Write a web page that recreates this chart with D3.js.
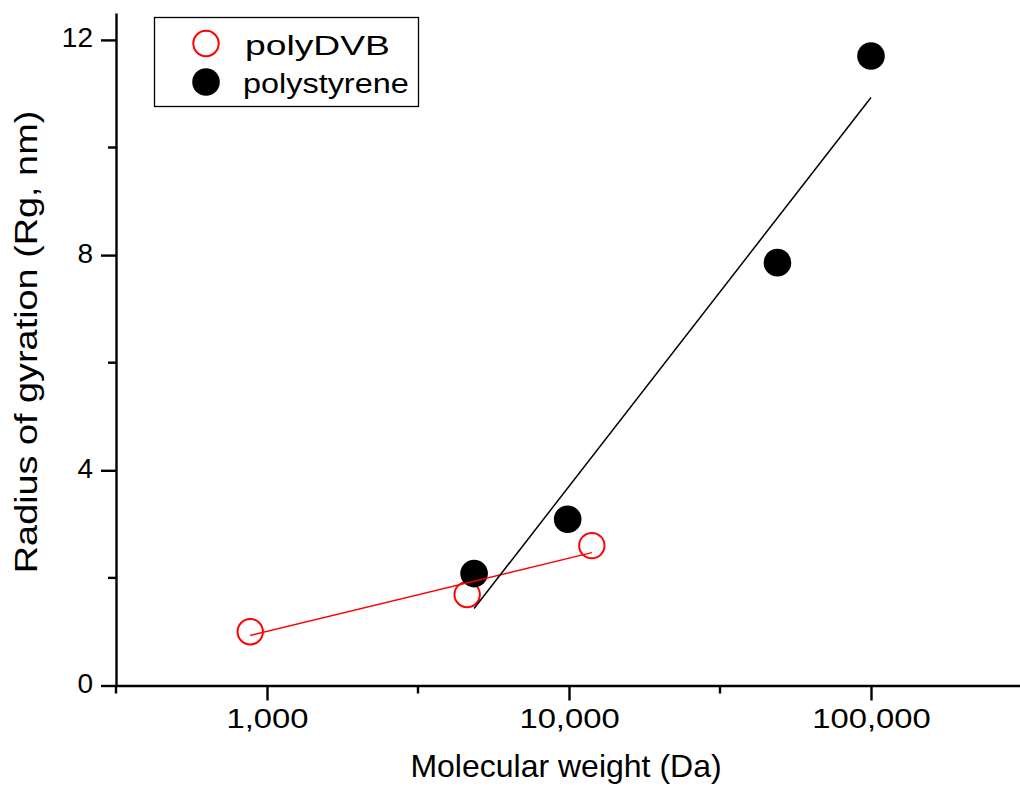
<!DOCTYPE html>
<html>
<head>
<meta charset="utf-8">
<script src="https://cdn.jsdelivr.net/npm/d3@7"></script>
<style>
  body { margin: 0; background: #fff; }
  text { font-family: "Liberation Sans", Arial, sans-serif; fill: #000; }
</style>
</head>
<body>
<div id="chart"></div>
<script>
// Data
const dvbMw = [880, 4600, 11900];
const dvbRg = [1.0, 1.69, 2.6];
const psMw = [4850, 9900, 49000, 100000];
const psRg = [2.08, 3.09, 7.86, 11.70];

// fitted lines (end points)
const dvbFitMw = [880, 11900];
const dvbFitRg = [0.93, 2.47];
const psFitMw = [4850, 100000];
const psFitRg = [1.43, 10.93];

const xTicks = [1000, 10000, 100000];
const xMinor = [Math.pow(10, 2.5), Math.pow(10, 3.5), Math.pow(10, 4.5)];
const yTicks = [0, 4, 8, 12];
const yMinor = [2, 6, 10];

const width = 1020;
const height = 796;

const svg = d3.select('#chart')
  .append('svg')
  .attr('width', width)
  .attr('height', height);

const x = d3.scaleLog()
  .domain([Math.pow(10, 2.5), Math.pow(10, 5.5)])
  .range([116, 1022]);
const y = d3.scaleLinear()
  .domain([0, 12.5])
  .range([685.5, 13]);

// stretch text horizontally to match the reference glyph widths
function stretch(sel, k) {
  sel.each(function() {
    const L = this.getComputedTextLength();
    d3.select(this).attr('textLength', L * k).attr('lengthAdjust', 'spacingAndGlyphs');
  });
}

const toPts = (mw, rg) => mw.map((m, i) => ({ mw: m, rg: rg[i] }));

// X axis
const xAxis = svg.append('g')
  .attr('transform', `translate(0,${y(0)})`)
  .call(d3.axisBottom(x).tickValues(xTicks).tickSize(15).tickSizeOuter(0).tickFormat(d3.format(',')));
xAxis.select('.domain').attr('stroke-width', 2.4);
xAxis.selectAll('.tick line').attr('stroke-width', 2.4);
xAxis.selectAll('.tick text')
  .attr('y', 42)
  .attr('dy', 0)
  .style('font-size', '28px')
  .call(stretch, 1.17);

svg.append('g')
  .selectAll('line')
  .data(xMinor)
  .enter().append('line')
  .attr('x1', d => x(d)).attr('x2', d => x(d))
  .attr('y1', y(0)).attr('y2', y(0) + 8)
  .attr('stroke', '#000').attr('stroke-width', 2.4);

// Y axis
const yAxis = svg.append('g')
  .attr('transform', `translate(${x.range()[0]},0)`)
  .call(d3.axisLeft(y).tickValues(yTicks).tickSize(15).tickSizeOuter(0));
yAxis.select('.domain').attr('stroke-width', 2.4);
yAxis.selectAll('.tick line').attr('stroke-width', 2.4);
yAxis.selectAll('.tick text')
  .attr('x', -23)
  .attr('dy', '0.25em')
  .style('font-size', '28px');

svg.append('g')
  .selectAll('line')
  .data(yMinor)
  .enter().append('line')
  .attr('x1', x.range()[0] - 8).attr('x2', x.range()[0])
  .attr('y1', d => y(d)).attr('y2', d => y(d))
  .attr('stroke', '#000').attr('stroke-width', 2.4);

// Axis titles
svg.append('text')
  .attr('x', 566)
  .attr('y', 777)
  .style('text-anchor', 'middle')
  .style('font-size', '32px')
  .text('Molecular weight (Da)');

svg.append('text')
  .attr('transform', 'translate(37,342) rotate(-90)')
  .style('text-anchor', 'middle')
  .style('font-size', '31px')
  .text('Radius of gyration (Rg, nm)')
  .call(stretch, 1.22);

const line = d3.line()
  .x(d => x(d.mw))
  .y(d => y(d.rg));

// polyDVB open circles
svg.selectAll('.dvb')
  .data(toPts(dvbMw, dvbRg))
  .enter().append('circle')
  .attr('class', 'dvb')
  .attr('cx', d => x(d.mw))
  .attr('cy', d => y(d.rg))
  .attr('r', 12.7)
  .attr('fill', 'none')
  .attr('stroke', '#ff0000')
  .attr('stroke-width', 2);

// polystyrene filled circles
svg.selectAll('.ps')
  .data(toPts(psMw, psRg))
  .enter().append('circle')
  .attr('class', 'ps')
  .attr('cx', d => x(d.mw))
  .attr('cy', d => y(d.rg))
  .attr('r', 13.8)
  .attr('fill', '#000');

// fit lines
svg.append('path')
  .datum(toPts(dvbFitMw, dvbFitRg))
  .attr('d', line)
  .attr('fill', 'none')
  .attr('stroke', '#ff0000')
  .attr('stroke-width', 1.5);

svg.append('path')
  .datum(toPts(psFitMw, psFitRg))
  .attr('d', line)
  .attr('fill', 'none')
  .attr('stroke', '#000')
  .attr('stroke-width', 1.5);

// Legend
const legend = svg.append('g');
legend.append('rect')
  .attr('x', 154.5).attr('y', 17.5)
  .attr('width', 264).attr('height', 89)
  .attr('fill', '#fff')
  .attr('stroke', '#000')
  .attr('stroke-width', 1.3);

legend.append('circle')
  .attr('cx', 206).attr('cy', 43.5).attr('r', 12.7)
  .attr('fill', 'none').attr('stroke', '#ff0000').attr('stroke-width', 2);
legend.append('circle')
  .attr('cx', 206).attr('cy', 82).attr('r', 13.8)
  .attr('fill', '#000');

legend.append('text')
  .attr('x', 245).attr('y', 55)
  .style('font-size', '27px')
  .text('polyDVB')
  .call(stretch, 1.38);
legend.append('text')
  .attr('x', 243).attr('y', 93)
  .style('font-size', '27px')
  .text('polystyrene')
  .call(stretch, 1.2);
</script>
</body>
</html>
